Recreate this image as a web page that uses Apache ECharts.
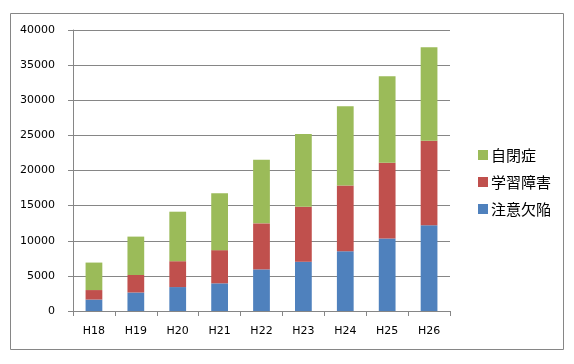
<!DOCTYPE html>
<html><head><meta charset="utf-8">
<script src="https://cdn.jsdelivr.net/npm/echarts@6/dist/echarts.min.js"></script>
<style>html,body{margin:0;padding:0;background:#fff}#c{width:574px;height:364px}</style>
</head><body><div id="c"></div>
<script>
const categories = ['H18','H19','H20','H21','H22','H23','H24','H25','H26'];
const adhd = [1631, 2636, 3406, 3939, 5924, 7026, 8517, 10324, 12213];
const ld = [1351, 2485, 3682, 4726, 6550, 7813, 9350, 10769, 12006];
const autism = [3912, 5469, 7047, 8114, 9063, 10342, 11274, 12308, 13340];
const names = ['注意欠陥', '学習障害', '自閉症'];
const yTicks = {min: 0, max: 40000, interval: 5000};

const chart = echarts.init(document.getElementById('c'), null, {renderer: 'canvas'});
const font = '"DejaVu Sans", Verdana, sans-serif';
const gray = '#868686';
chart.setOption({
  animation: false,
  graphic: [{type: 'rect', shape: {x: 10.5, y: 13.5, width: 553, height: 336}, style: {fill: 'none', stroke: gray, lineWidth: 1}}],
  grid: {left: 73, right: 124, top: 30, bottom: 53},
  legend: {
    orient: 'vertical', left: 473, top: 142,
    data: [names[2], names[1], names[0]],
    itemWidth: 10, itemHeight: 10, itemGap: 11, icon: 'rect',
    textStyle: {fontFamily: '"Noto Sans CJK JP"', fontSize: 15, color: '#000', lineHeight: 16, padding: [0,0,0,-2]}
  },
  xAxis: {
    type: 'category', data: categories,
    axisLine: {lineStyle: {color: gray}},
    axisTick: {show: true, length: 5, lineStyle: {color: gray}},
    axisLabel: {color: '#000', fontFamily: font, fontSize: 11, margin: 15}
  },
  yAxis: {
    type: 'value', min: yTicks.min, max: yTicks.max, interval: yTicks.interval,
    axisLine: {show: true, lineStyle: {color: gray}},
    axisTick: {show: true, length: 5, lineStyle: {color: gray}},
    splitLine: {lineStyle: {color: gray}},
    axisLabel: {color: '#000', fontFamily: font, fontSize: 11, margin: 18, formatter: v => String(v)}
  },
  series: [
    {name: names[0], type: 'bar', stack: 's', data: adhd, itemStyle: {color: '#4F81BD'}, barWidth: '40%'},
    {name: names[1], type: 'bar', stack: 's', data: ld, itemStyle: {color: '#C0504D'}, barWidth: '40%'},
    {name: names[2], type: 'bar', stack: 's', data: autism, itemStyle: {color: '#9BBB59'}, barWidth: '40%'}
  ]
});
</script></body></html>
